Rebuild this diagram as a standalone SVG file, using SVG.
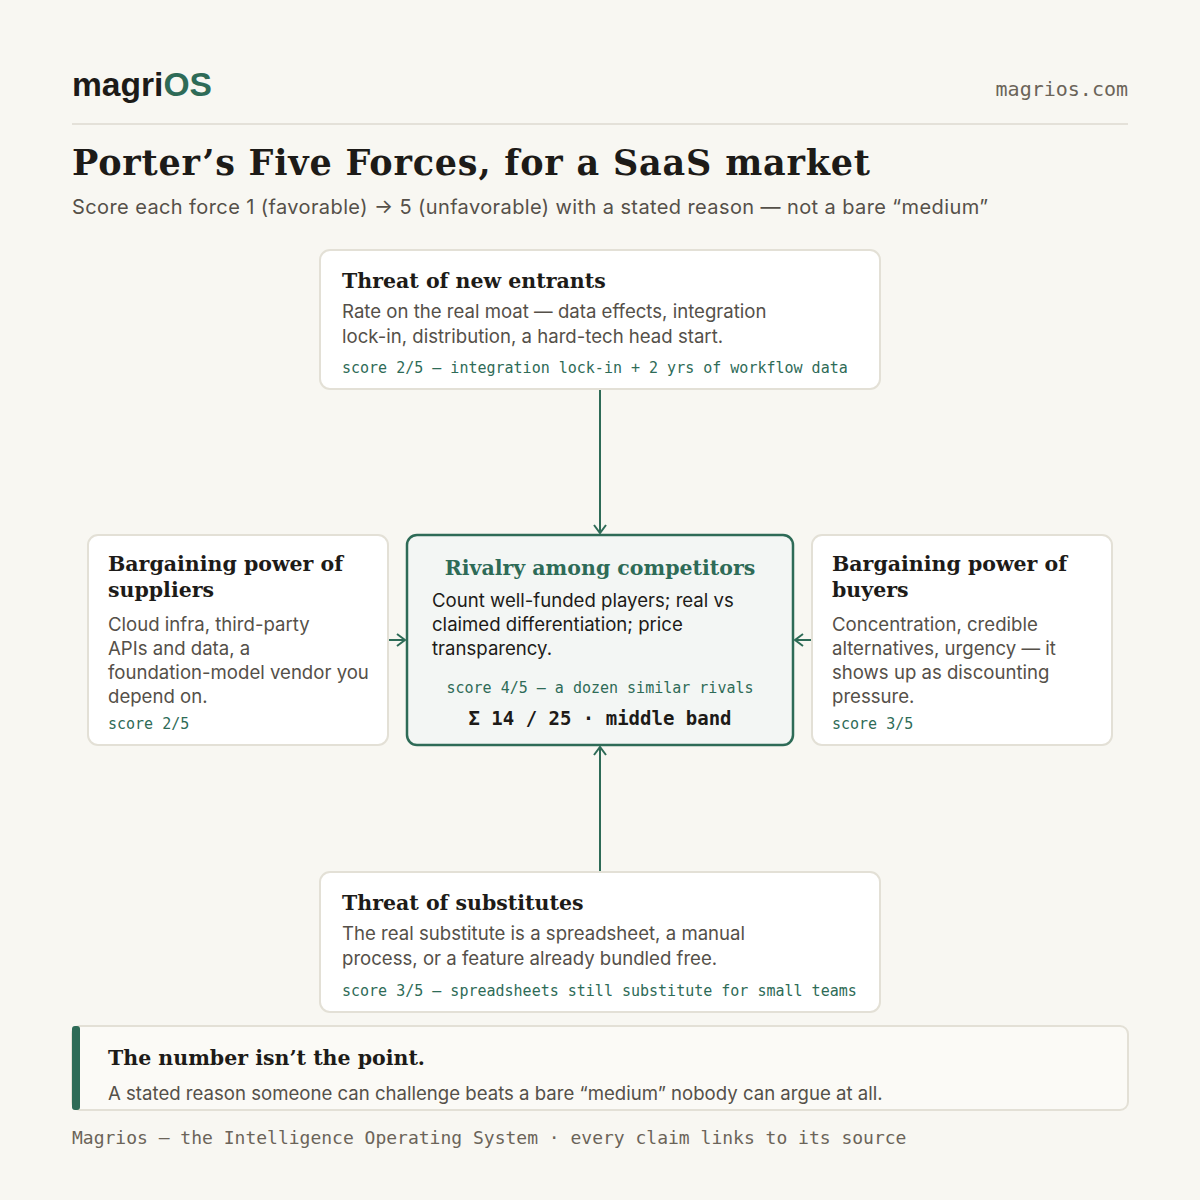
<svg xmlns="http://www.w3.org/2000/svg" width="1200" height="1200" viewBox="0 0 1200 1200">
<defs>
<marker id="ah" markerWidth="14" markerHeight="14" refX="11" refY="7" orient="auto" markerUnits="userSpaceOnUse"><path d="M3,1 L11,7 L3,13" fill="none" stroke="#2e6b57" stroke-width="2"/></marker>
<style>
.box{fill:#fff;stroke:#e3e0d6;stroke-width:2}
.t{font-family:"DejaVu Serif",Georgia,serif;font-weight:bold;font-size:20.5px;fill:#1d1b18}
.b{font-family:Inter,"Liberation Sans",Arial,sans-serif;font-size:18.6px;fill:#555049}
.s{font-family:"DejaVu Sans Mono",monospace;font-size:15px;fill:#2e6b57}
.c{stroke:#2e6b57;stroke-width:2;fill:none;marker-end:url(#ah)}
</style>
</defs>
<rect width="1200" height="1200" fill="#f8f7f2"/>
<text x="72" y="96" font-family="Liberation Sans,Arial,sans-serif" font-weight="bold" font-size="33.6" fill="#1d1b18">magri<tspan fill="#2e6b57">OS</tspan></text>
<text x="1128" y="96" text-anchor="end" font-family="DejaVu Sans Mono,monospace" font-size="20" fill="#6b6459">magrios.com</text>
<line x1="72" y1="124" x2="1128" y2="124" stroke="#dedad0" stroke-width="1.5"/>
<text x="72" y="175" font-family="DejaVu Serif,Georgia,serif" font-weight="bold" font-size="35" fill="#1d1b18" textLength="798">Porter’s Five Forces, for a SaaS market</text>
<text x="72" y="214" font-family="Inter,Liberation Sans,Arial,sans-serif" font-size="20" fill="#555049" textLength="916">Score each force 1 (favorable) → 5 (unfavorable) with a stated reason — not a bare “medium”</text>
<g id="connectors">
<line class="c" x1="600" y1="390" x2="600" y2="533"/>
<line class="c" x1="600" y1="871" x2="600" y2="747"/>
<line class="c" x1="389" y1="640" x2="405" y2="640"/>
<line class="c" x1="811" y1="640" x2="795" y2="640"/>
</g>
<g id="entrants">
<rect class="box" x="320" y="250" width="560" height="139" rx="10"/>
<text class="t" x="342" y="288">Threat of new entrants</text>
<text class="b" x="342" y="318">Rate on the real moat — data effects, integration</text>
<text class="b" x="342" y="343">lock-in, distribution, a hard-tech head start.</text>
<text class="s" x="342" y="373">score 2/5 — integration lock-in + 2 yrs of workflow data</text>
</g>
<g id="rivalry">
<rect x="407" y="535" width="386" height="210" rx="10" fill="#f3f6f4" stroke="#2e6b57" stroke-width="2.5"/>
<text class="t" x="600" y="575" text-anchor="middle" style="fill:#2e6b57">Rivalry among competitors</text>
<text class="b" x="432" y="607" style="fill:#1d1b18">Count well-funded players; real vs</text>
<text class="b" x="432" y="631" style="fill:#1d1b18">claimed differentiation; price</text>
<text class="b" x="432" y="655" style="fill:#1d1b18">transparency.</text>
<text class="s" x="600" y="693" text-anchor="middle">score 4/5 — a dozen similar rivals</text>
<text x="600" y="725" text-anchor="middle" font-family="DejaVu Sans Mono,monospace" font-weight="bold" font-size="19" fill="#1d1b18">Σ 14 / 25 · middle band</text>
</g>
<g id="suppliers">
<rect class="box" x="88" y="535" width="300" height="210" rx="10"/>
<text class="t" x="108" y="571">Bargaining power of</text>
<text class="t" x="108" y="597">suppliers</text>
<text class="b" x="108" y="631">Cloud infra, third-party</text>
<text class="b" x="108" y="655">APIs and data, a</text>
<text class="b" x="108" y="679">foundation-model vendor you</text>
<text class="b" x="108" y="703">depend on.</text>
<text class="s" x="108" y="729">score 2/5</text>
</g>
<g id="buyers">
<rect class="box" x="812" y="535" width="300" height="210" rx="10"/>
<text class="t" x="832" y="571">Bargaining power of</text>
<text class="t" x="832" y="597">buyers</text>
<text class="b" x="832" y="631">Concentration, credible</text>
<text class="b" x="832" y="655">alternatives, urgency — it</text>
<text class="b" x="832" y="679">shows up as discounting</text>
<text class="b" x="832" y="703">pressure.</text>
<text class="s" x="832" y="729">score 3/5</text>
</g>
<g id="substitutes">
<rect class="box" x="320" y="872" width="560" height="140" rx="10"/>
<text class="t" x="342" y="910">Threat of substitutes</text>
<text class="b" x="342" y="940">The real substitute is a spreadsheet, a manual</text>
<text class="b" x="342" y="965">process, or a feature already bundled free.</text>
<text class="s" x="342" y="996">score 3/5 — spreadsheets still substitute for small teams</text>
</g>
<g id="callout">
<rect x="72" y="1026" width="1056" height="84" rx="8" fill="#fbfaf6" stroke="#e3e0d6" stroke-width="2"/>
<rect x="72" y="1026" width="8" height="84" rx="3" fill="#2e6b57"/>
<text class="t" x="108" y="1065">The number isn’t the point.</text>
<text class="b" x="108" y="1100">A stated reason someone can challenge beats a bare “medium” nobody can argue at all.</text>
</g>
<text x="72" y="1144" font-family="DejaVu Sans Mono,monospace" font-size="18" fill="#6b6459">Magrios — the Intelligence Operating System · every claim links to its source</text>
</svg>
